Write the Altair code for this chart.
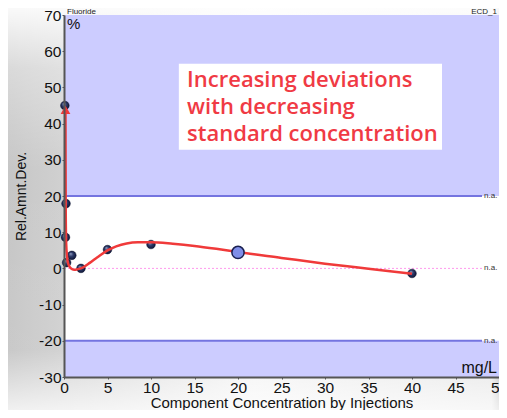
import altair as alt
import pandas as pd

# ---- data ----
pt_x = [0.1, 0.23, 0.17, 0.3, 0.9, 1.95, 5.0, 10.0, 40.0]
pt_y = [45.0, 17.9, 8.6, 1.6, 3.6, 0.0, 5.2, 6.6, -1.4]

hl_x = [20.0]
hl_y = [4.4]

curve_x = [0.17, 0.18, 0.2, 0.25, 0.35, 0.5, 0.8, 1.15, 1.6, 2.2, 3.0, 3.8, 5.0, 6.0,
           7.2, 8.5, 10.0, 12.5, 15.0, 17.5, 20.0, 25.0, 30.0, 35.0, 40.0]
curve_y = [43.0, 30.0, 15.0, 7.0, 3.2, 1.2, 0.0, -0.4, -0.2, 0.3, 1.6, 3.0, 5.0, 6.1,
           6.9, 7.2, 7.2, 6.8, 6.2, 5.4, 4.5, 2.9, 1.3, -0.1, -1.5]

band_lo = [20, -30]
band_hi = [70, -20]
limit_y = [20, -20]
na_y = [20, 0, -20]

x_ticks = [0, 5, 10, 15, 20, 25, 30, 35, 40, 45, 50]
y_ticks = [-30, -20, -10, 0, 10, 20, 30, 40, 50, 60, 70]

note_lines = ["Increasing deviations", "with decreasing", "standard concentration"]

W, H = 435, 362
FONT = "Liberation Sans"

xs = alt.Scale(domain=[0, 50], nice=False, zero=False)
ys = alt.Scale(domain=[-30, 70], nice=False, zero=False)

AX = alt.Axis(values=x_ticks, title="Component Concentration by Injections", zindex=2,
              grid=False, domainColor="#555555", domainWidth=2, tickColor="#555555",
              tickSize=2, labelPadding=1, labelFont=FONT, labelFontSize=15.5,
              labelColor="#111111", labelFlush=False, labelOverlap=False,
              labelExpr="'' + datum.value",
              titleFont=FONT, titleFontSize=15, titleFontWeight="normal",
              titleColor="#111111", titleBaseline="alphabetic", titleY=30.5)
AY = alt.Axis(values=y_ticks, title="Rel.Amnt.Dev.", zindex=2,
              grid=False, domainColor="#555555", domainWidth=2, tickColor="#555555",
              tickSize=2, labelPadding=1, labelFont=FONT, labelFontSize=15.5,
              labelColor="#111111", labelOverlap=False,
              labelExpr="'' + datum.value",
              titleFont=FONT, titleFontSize=14, titleFontWeight="normal",
              titleColor="#111111", titleX=-43, titleBaseline="middle")

one = alt.Data(values=[{}])


def X(field=None, datum=None):
    if datum is not None:
        return alt.X(datum=datum, type="quantitative", scale=xs, axis=AX)
    return alt.X(field, type="quantitative", scale=xs, axis=AX)


def Y(field=None, datum=None):
    if datum is not None:
        return alt.Y(datum=datum, type="quantitative", scale=ys, axis=AY)
    return alt.Y(field, type="quantitative", scale=ys, axis=AY)


# background gradients (decoration outside plot)
bg_h = alt.Chart(one).mark_rect(clip=False, fill={
    "gradient": "linear", "x1": 0, "y1": 0, "x2": 1, "y2": 0,
    "stops": [{"offset": 0, "color": "#c6c6c6"}, {"offset": 0.13, "color": "#d2d2d2"},
              {"offset": 0.5, "color": "#f3f3f3"}, {"offset": 0.985, "color": "#e4e4e4"},
              {"offset": 1, "color": "#bcbcbc"}]}).encode(
    x=alt.value(-56), x2=alt.value(W), y=alt.value(-7), y2=alt.value(H + 33))
bg_v = alt.Chart(one).mark_rect(clip=False, fill={
    "gradient": "linear", "x1": 0, "y1": 0, "x2": 0, "y2": 1,
    "stops": [{"offset": 0, "color": "rgba(255,255,255,0.9)"},
              {"offset": 0.15, "color": "rgba(255,255,255,0.35)"},
              {"offset": 0.4, "color": "rgba(255,255,255,0)"},
              {"offset": 0.85, "color": "rgba(255,255,255,0.05)"},
              {"offset": 1, "color": "rgba(255,255,255,0.75)"}]}).encode(
    x=alt.value(-56), x2=alt.value(W), y=alt.value(-7), y2=alt.value(H + 33))

plot_bg = alt.Chart(one).mark_rect(fill="white").encode(
    x=alt.value(0), x2=alt.value(W), y=alt.value(0), y2=alt.value(H))

bands = alt.Chart(pd.DataFrame({"lo": band_lo, "hi": band_hi})).mark_rect(
    fill="#ccccff").encode(x=X(datum=0), x2=alt.X2(datum=50), y=Y("lo"), y2="hi")

box = alt.Chart(one).mark_rect(fill="white").encode(
    x=X(datum=13.2), x2=alt.X2(datum=43.45), y=Y(datum=56.5), y2=alt.Y2(datum=32.8))

limits = alt.Chart(pd.DataFrame({"y": limit_y})).mark_rule(
    color="#7474e0", strokeWidth=2).encode(x=X(datum=0), x2=alt.X2(datum=48.05), y=Y("y"))

zero = alt.Chart(one).mark_rule(color="#ff99ee", strokeWidth=1, strokeDash=[2, 2]).encode(
    x=X(datum=0), x2=alt.X2(datum=48.05), y=Y(datum=0))

na = alt.Chart(pd.DataFrame({"y": na_y})).mark_text(
    text="n.a.", font=FONT, fontSize=8, color="#333333", align="left",
    baseline="middle", dx=2).encode(x=X(datum=48.05), y=Y("y"))

curve = alt.Chart(pd.DataFrame({"x": curve_x, "y": curve_y})).mark_line(
    color="#f03a3a", strokeWidth=2.5, interpolate="monotone").encode(
    x=X("x"), y=Y("y"), order="x:Q")

arrow = alt.Chart(one).mark_point(shape="triangle-up", filled=True, size=95,
                                  color="#f03a3a", opacity=1).encode(
    x=X(datum=0.17), y=Y(datum=43.8))

sphere = {"gradient": "radial", "x1": 0.35, "y1": 0.3, "r1": 0, "x2": 0.5, "y2": 0.5, "r2": 0.55,
          "stops": [{"offset": 0, "color": "#9aa6c8"}, {"offset": 0.45, "color": "#2c3a6a"},
                    {"offset": 1, "color": "#0c1230"}]}
points = alt.Chart(pd.DataFrame({"x": pt_x, "y": pt_y})).mark_point(
    filled=True, size=75, fill=sphere, stroke="#0c1230", strokeWidth=0.5, opacity=1).encode(
    x=X("x"), y=Y("y"))

hl = alt.Chart(pd.DataFrame({"x": hl_x, "y": hl_y})).mark_point(
    filled=True, size=150, fill="#7f8ee8", stroke="#1a2050", strokeWidth=1.5, opacity=1).encode(
    x=X("x"), y=Y("y"))

note = alt.Chart(one).mark_text(
    text=note_lines, font="Open Sans", fontSize=22, fontWeight=600, color="#f03a44",
    align="left", baseline="alphabetic", lineHeight=27).encode(
    x=X(datum=14.15), y=Y(datum=50.1))

pct = alt.Chart(one).mark_text(text="%", font=FONT, fontSize=15, color="#111111",
                               align="left", baseline="top", dx=3, dy=2).encode(
    x=X(datum=0), y=Y(datum=70))

unit = alt.Chart(one).mark_text(text="mg/L", font=FONT, fontSize=16, color="#111111",
                                align="right", baseline="alphabetic", dx=-2, dy=-4).encode(
    x=X(datum=50), y=Y(datum=-30))

comp = alt.Chart(one).mark_text(text="Fluoride", font=FONT, fontSize=8, color="#222222",
                                align="left", baseline="alphabetic", dx=3, dy=-1).encode(
    x=X(datum=0), y=Y(datum=70))

det = alt.Chart(one).mark_text(text="ECD_1", font=FONT, fontSize=8, color="#222222",
                               align="right", baseline="alphabetic", dx=-2, dy=-1).encode(
    x=X(datum=50), y=Y(datum=70))

chart = alt.layer(
    bg_h, bg_v, plot_bg, bands, box, limits, zero, na, points, curve, arrow, hl, note,
    pct, unit, comp, det
).properties(
    width=W, height=H,
    autosize=alt.AutoSizeParams(type="none"),
    padding={"left": 56, "top": 7, "right": 0, "bottom": 33},
    background="white",
).configure_view(stroke=None)

chart.save("out.html", embed_options={"renderer": "svg", "actions": False})
